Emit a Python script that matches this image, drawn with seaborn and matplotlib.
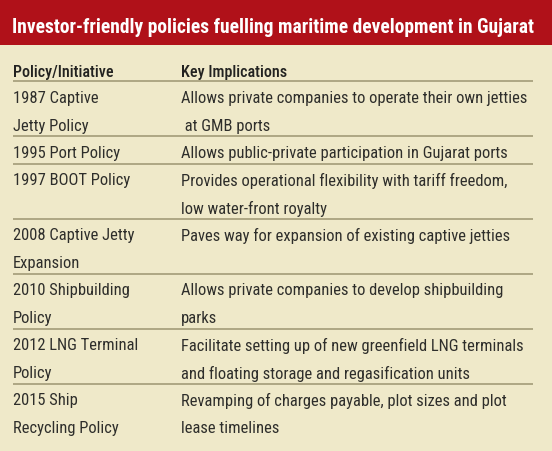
import matplotlib
matplotlib.use("Agg")
import matplotlib.pyplot as plt
from matplotlib import font_manager
import seaborn as sns

sns.set_theme(style="white")

# narrow faces look closest to the print original; fall back to DejaVu condensed
installed = {f.name for f in font_manager.fontManager.ttflist}
narrow = [f for f in ["Roboto Condensed", "PT Sans Narrow", "Archivo Narrow"] if f in installed]
if narrow:
    FAMILY, STRETCH = narrow[0], "normal"
else:
    FAMILY, STRETCH = "DejaVu Sans", "condensed"
plt.rcParams["font.family"] = [FAMILY, "DejaVu Sans"]

# -- Table content -- #
title = "Investor-friendly policies fuelling maritime development in Gujarat"
col_headers = ["Policy/Initiative", "Key Implications"]
policies = [
    "1987 Captive\nJetty Policy",
    "1995 Port Policy",
    "1997 BOOT Policy",
    "2008 Captive Jetty\nExpansion",
    "2010 Shipbuilding\nPolicy",
    "2012 LNG Terminal\nPolicy",
    "2015 Ship\nRecycling Policy",
]
implications = [
    "Allows private companies to operate their own jetties\n at GMB ports",
    "Allows public-private participation in Gujarat ports",
    "Provides operational flexibility with tariff freedom,\nlow water-front royalty",
    "Paves way for expansion of existing captive jetties",
    "Allows private companies to develop shipbuilding\nparks",
    "Facilitate setting up of new greenfield LNG terminals\nand floating storage and regasification units",
    "Revamping of charges payable, plot sizes and plot\nlease timelines",
]

bg = "#EFE9C9"
red = "#B01119"
rule = "#A39C78"
ink = "#2E2E2B"

W, H = 552, 452
fig = plt.figure(figsize=(W / 100, H / 100), dpi=100, facecolor=bg)
ax = fig.add_axes([0, 0, 1, 1])
ax.set_xlim(0, W)
ax.set_ylim(H, 0)
ax.axis("off")
ax.set_facecolor(bg)
renderer = fig.canvas.get_renderer()


def fit_size(text, width_px, weight="normal"):
    """font size that makes `text` span width_px"""
    t = ax.text(0, 0, text, fontsize=10, fontweight=weight, fontstretch=STRETCH)
    w = t.get_window_extent(renderer).width
    t.remove()
    return 10 * width_px / w


title_size = fit_size(title, 521, "bold")
body_size = fit_size(implications[0].split("\n")[0], 344)
head_size = fit_size(col_headers[0], 100, "medium")

# Title band
ax.axhspan(0, 45.5, color=red, lw=0)
ax.text(12, 27.5, title, color="white", fontsize=title_size, fontweight="bold",
        fontstretch=STRETCH, va="center", ha="left")

x_left, x_right = 13, 533
col_x = [13, 181]
line_h = 27.5

# Column headers
for x, lab in zip(col_x, col_headers):
    ax.text(x, 72, lab, color="#222220", fontsize=head_size, fontweight="medium",
            fontstretch=STRETCH, va="center", ha="left")

ax.hlines(82, x_left, x_right, color=rule, lw=1.2)

# Rows
top = 82
for pol, imp in zip(policies, implications):
    n = max(pol.count("\n"), imp.count("\n")) + 1
    for x, cell in zip(col_x, [pol, imp]):
        for i, part in enumerate(cell.split("\n")):
            ax.text(x, top + 16.5 + i * line_h, part, color=ink, fontsize=body_size,
                    fontstretch=STRETCH, va="center", ha="left")
    top += n * line_h
    if pol != policies[-1]:
        ax.hlines(top, x_left, x_right, color=rule, lw=1.2)

fig.savefig("out.png", dpi=100, facecolor=bg)
plt.close()
